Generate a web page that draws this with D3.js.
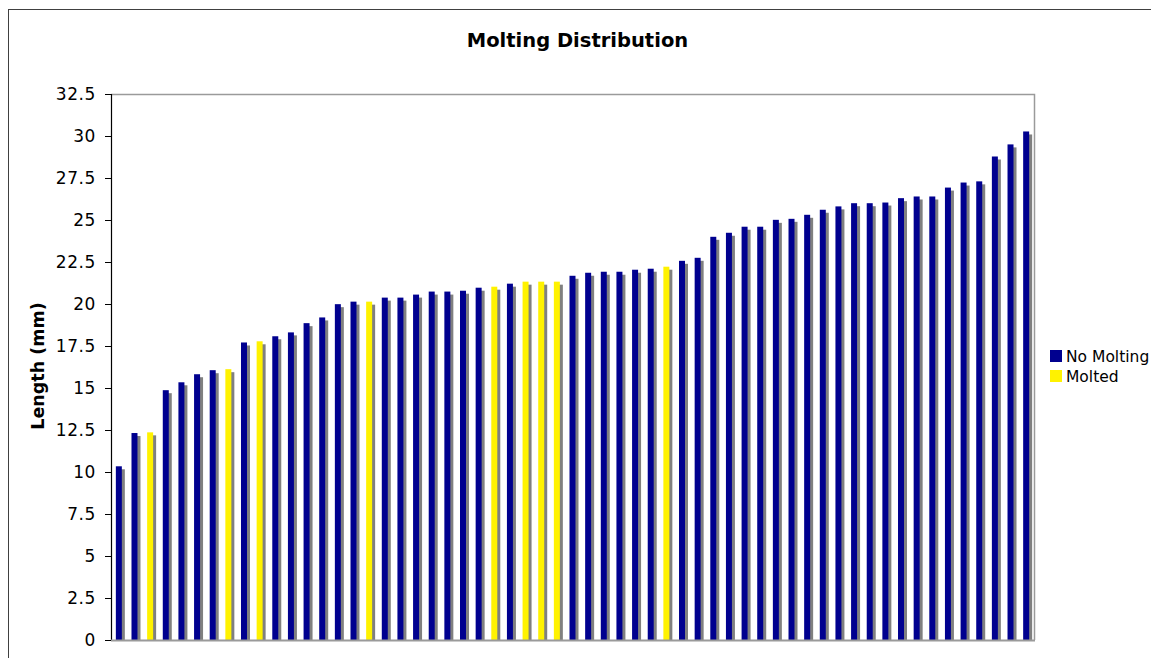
<!DOCTYPE html>
<html>
<head>
<meta charset="utf-8">
<title>Molting Distribution</title>
<script src="https://cdn.jsdelivr.net/npm/d3@7/dist/d3.min.js"></script>
<style>
  html, body { margin: 0; padding: 0; background: #ffffff; overflow: hidden; }
  svg { display: block; font-family: "DejaVu Sans", Verdana, sans-serif; }
</style>
</head>
<body>
<svg id="chart" width="1151" height="658"></svg>
<script>
// Carapace length of each specimen (mm), sorted ascending
const lengths = [
  10.34, 12.32, 12.36, 14.87, 15.34, 15.82, 16.06, 16.12, 17.71, 17.78,
  18.08, 18.31, 18.86, 19.20, 19.99, 20.14, 20.14, 20.38, 20.38, 20.56,
  20.74, 20.74, 20.79, 20.97, 21.03, 21.21, 21.33, 21.33, 21.33, 21.68,
  21.86, 21.92, 21.92, 22.04, 22.10, 22.22, 22.57, 22.75, 24.00, 24.24,
  24.60, 24.60, 25.01, 25.07, 25.31, 25.61, 25.81, 26.00, 26.00, 26.04,
  26.30, 26.40, 26.40, 26.93, 27.23, 27.30, 28.78, 29.50, 30.27
];

// Molting status of each specimen (same order as lengths)
const status = [
  "No Molting", "No Molting", "Molted", "No Molting", "No Molting", "No Molting", "No Molting", "Molted", "No Molting", "Molted",
  "No Molting", "No Molting", "No Molting", "No Molting", "No Molting", "No Molting", "Molted", "No Molting", "No Molting", "No Molting",
  "No Molting", "No Molting", "No Molting", "No Molting", "Molted", "No Molting", "Molted", "Molted", "Molted", "No Molting",
  "No Molting", "No Molting", "No Molting", "No Molting", "No Molting", "Molted", "No Molting", "No Molting", "No Molting", "No Molting",
  "No Molting", "No Molting", "No Molting", "No Molting", "No Molting", "No Molting", "No Molting", "No Molting", "No Molting", "No Molting",
  "No Molting", "No Molting", "No Molting", "No Molting", "No Molting", "No Molting", "No Molting", "No Molting", "No Molting"
];

const seriesNames = ["No Molting", "Molted"];
const seriesColors = ["#00008f", "#fff200"];
const yTicks = [0, 2.5, 5, 7.5, 10, 12.5, 15, 17.5, 20, 22.5, 25, 27.5, 30, 32.5];

const svg = d3.select("#chart");
const W = 1151, H = 658;
const plot = { left: 111, right: 1034, top: 94, bottom: 640 };

const records = lengths.map((v, i) => ({ id: i, value: v, status: status[i] }));

const x = d3.scaleBand()
  .domain(records.map(d => d.id))
  .range([plot.left, plot.right])
  .paddingInner(0.617)
  .paddingOuter(0.31);

const y = d3.scaleLinear().domain([0, 32.5]).range([plot.bottom, plot.top]);
const color = d3.scaleOrdinal().domain(seriesNames).range(seriesColors);

// Chart area frame
svg.append("rect")
  .attr("x", 8.5).attr("y", 9.5)
  .attr("width", W).attr("height", H)
  .attr("fill", "#ffffff")
  .attr("stroke", "#404040")
  .attr("stroke-width", 1);

// Plot area frame (top and right edges)
svg.append("path")
  .attr("d", `M${plot.left},${plot.top + 0.5}H${plot.right + 0.5}V${plot.bottom}`)
  .attr("fill", "none")
  .attr("stroke", "#9a9a9a")
  .attr("stroke-width", 1.5);

// Title
svg.append("text")
  .attr("x", 577.5).attr("y", 47)
  .attr("text-anchor", "middle")
  .attr("font-size", 19.5)
  .attr("font-weight", "bold")
  .attr("fill", "#000")
  .text("Molting Distribution");

// Bars: drop shadow first, then the coloured bar
const bars = svg.append("g");
const shadowOffset = 3;

bars.selectAll("rect.shadow")
  .data(records)
  .join("rect")
  .attr("class", "shadow")
  .attr("x", d => x(d.id) + shadowOffset)
  .attr("y", d => y(d.value) + shadowOffset)
  .attr("width", x.bandwidth())
  .attr("height", d => Math.max(0, y(0) - y(d.value) - shadowOffset))
  .attr("fill", "#808080");

bars.selectAll("rect.bar")
  .data(records)
  .join("rect")
  .attr("class", "bar")
  .attr("x", d => x(d.id))
  .attr("y", d => y(d.value))
  .attr("width", x.bandwidth())
  .attr("height", d => y(0) - y(d.value))
  .attr("fill", d => color(d.status));

// Value axis
const yAxis = d3.axisLeft(y)
  .tickValues(yTicks)
  .tickSize(6)
  .tickPadding(9)
  .tickFormat(d => String(d));

const yg = svg.append("g")
  .attr("transform", `translate(${plot.left},0)`)
  .call(yAxis);
yg.select(".domain").attr("stroke", "#000").attr("stroke-width", 1.2);
yg.selectAll(".tick line").attr("stroke", "#000");
yg.selectAll(".tick text")
  .attr("font-family", "DejaVu Sans, Verdana, sans-serif")
  .attr("font-size", 17)
  .attr("letter-spacing", 0.6)
  .attr("fill", "#000");

// Category axis (baseline)
svg.append("line")
  .attr("x1", plot.left).attr("x2", plot.right + 1)
  .attr("y1", y(0) + 0.5).attr("y2", y(0) + 0.5)
  .attr("stroke", "#9a9a9a")
  .attr("stroke-width", 2);

// Value axis title
svg.append("text")
  .attr("transform", `translate(44,366) rotate(-90)`)
  .attr("text-anchor", "middle")
  .attr("font-size", 17.5)
  .attr("font-weight", "bold")
  .attr("fill", "#000")
  .text("Length (mm)");

// Legend
const legend = svg.append("g").attr("transform", "translate(1050,350)");
const items = legend.selectAll("g")
  .data(seriesNames)
  .join("g")
  .attr("transform", (d, i) => `translate(0,${i * 20})`);
items.append("rect")
  .attr("width", 12).attr("height", 12)
  .attr("fill", d => color(d));
items.append("text")
  .attr("x", 16).attr("y", 12)
  .attr("font-size", 15.5)
  .attr("fill", "#000")
  .text(d => d);
</script>
</body>
</html>
